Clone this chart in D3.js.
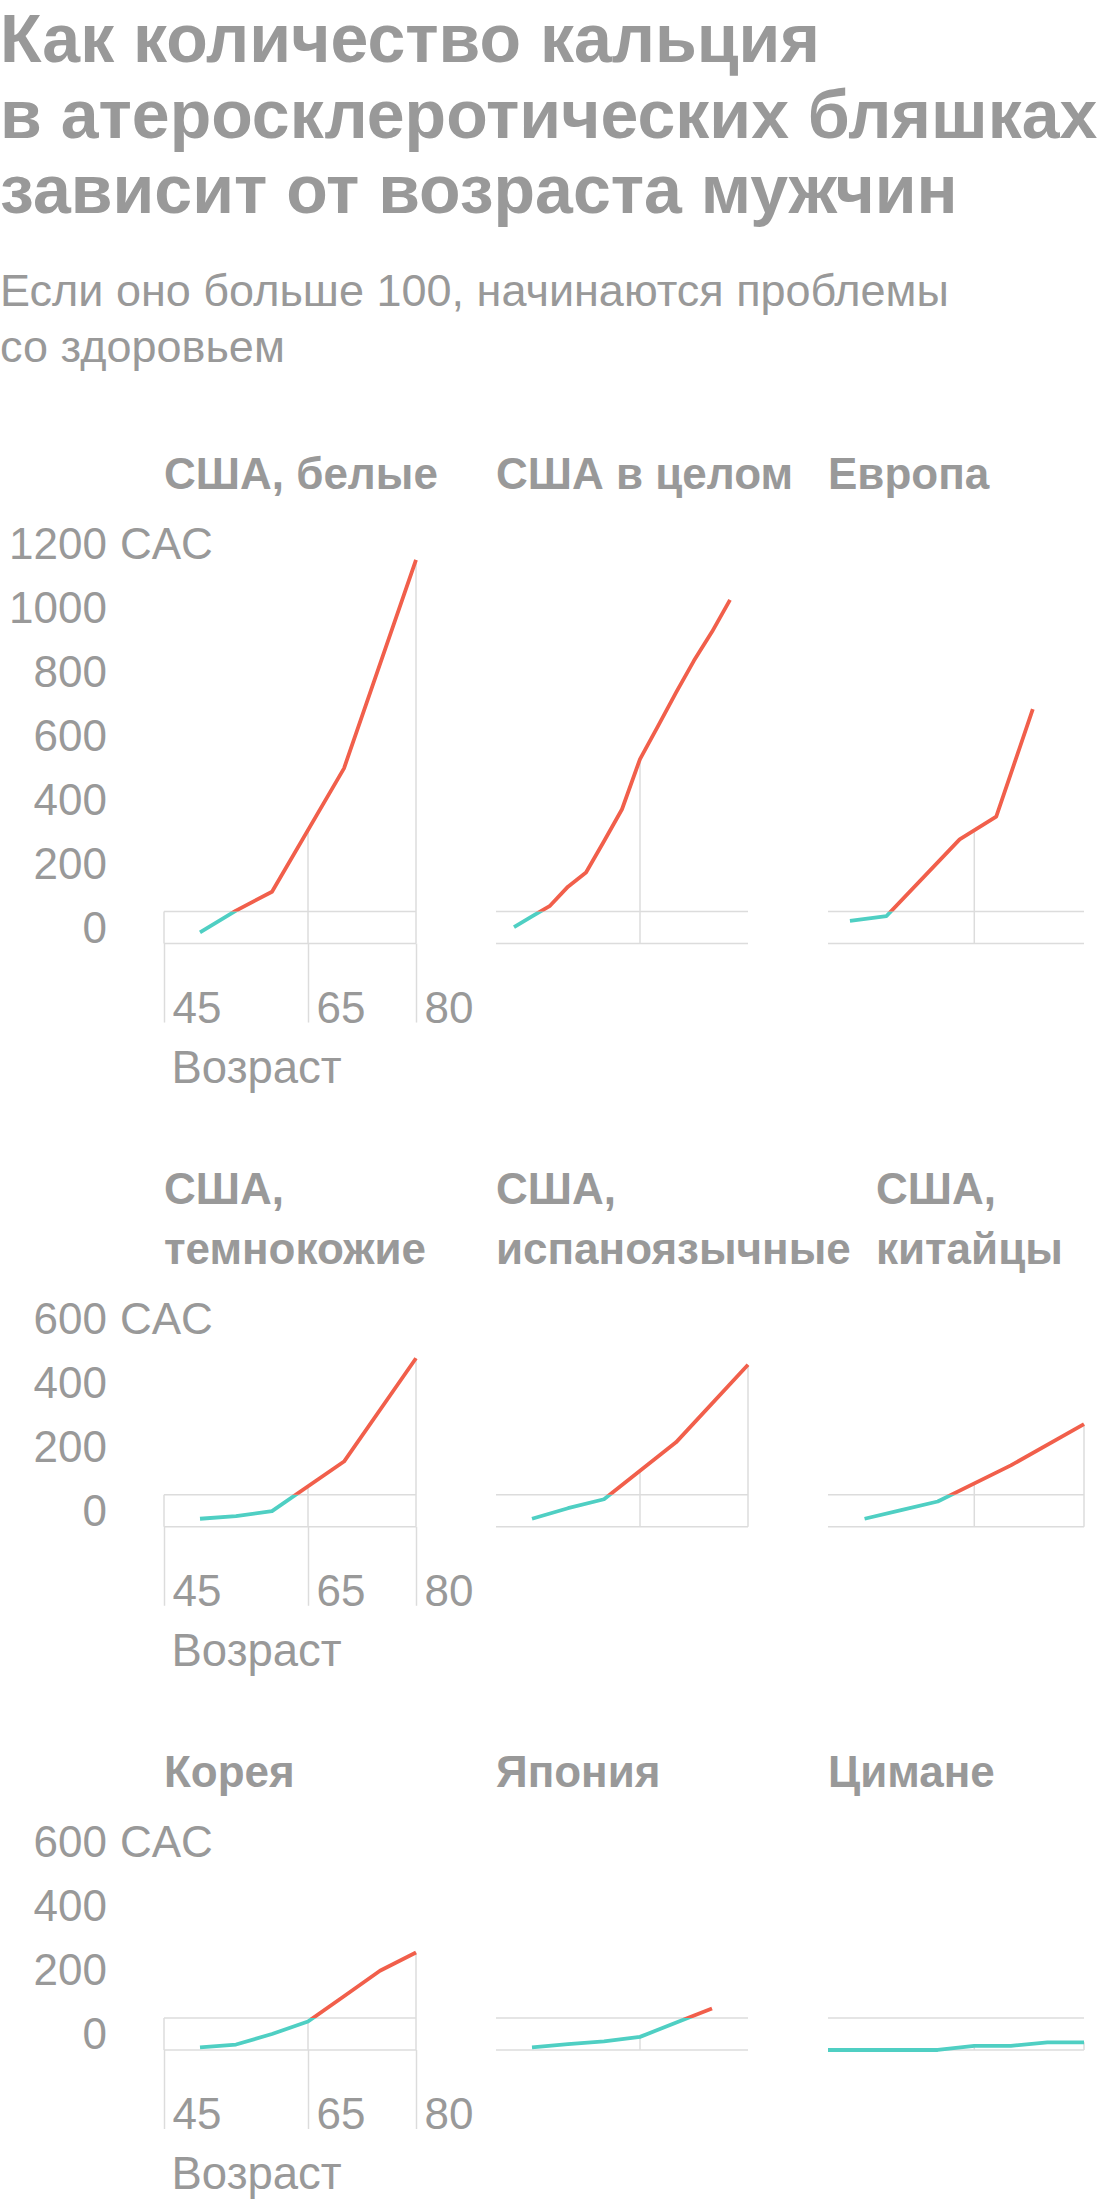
<!DOCTYPE html>
<html lang="ru">
<head>
<meta charset="utf-8">
<title>Кальций в атеросклеротических бляшках</title>
<script src="https://cdn.jsdelivr.net/npm/d3@7"></script>
<style>
  body { margin: 0; background: #fff; }
  svg text { font-family: "Liberation Sans", Arial, sans-serif; fill: #999; }
  .main-title { font-size: 68px; font-weight: bold; }
  .subtitle { font-size: 45px; }
  .panel-title { font-size: 44px; font-weight: bold; }
  .tick-label text, .unit-label { font-size: 44px; }
  .axis-label { font-size: 45.5px; }
</style>
</head>
<body>
<div id="chart"></div>
<script>
// -----------------------------
// DATA
// -----------------------------
const titleLines = ["Как количество кальция", "в атеросклеротических бляшках", "зависит от возраста мужчин"];
const subtitleLines = ["Если оно больше 100, начинаются проблемы", "со здоровьем"];

const panelNames = [
    ["США, белые"], ["США в целом"], ["Европа"],
    ["США,", "темнокожие"], ["США,", "испаноязычные"], ["США,", "китайцы"],
    ["Корея"], ["Япония"], ["Цимане"]
];

const agesWhite = [50, 55, 60, 70, 80];
const cacWhite = [35, 103, 162, 548, 1200];

const agesUsAll = [47.5, 50, 52.5, 55, 57.5, 60, 62.5, 65, 67.5, 70, 72.5, 75, 77.5];
const cacUsAll = [51, 85, 118, 178, 222, 320, 420, 577, 680, 785, 885, 975, 1075];

const agesEurope = [48, 53, 63, 68, 73];
const cacEurope = [71, 86, 326, 397, 733];

const agesBlack = [50, 55, 60, 70, 80];
const cacBlack = [25, 33, 49, 204, 527];

const agesHispanic = [50, 55, 60, 70, 80];
const cacHispanic = [25, 58, 86, 264, 507];

const agesChinese = [50, 55, 60, 70, 80];
const cacChinese = [25, 52, 79, 192, 321];

const agesKorea = [50, 55, 60, 65, 70, 75, 80];
const cacKorea = [8, 17, 50, 89, 168, 248, 305];

const agesJapan = [50, 55, 60, 65, 75];
const cacJapan = [8, 18, 27, 41, 130];

const agesTsimane = [45, 50, 55, 60, 65, 70, 75, 80];
const cacTsimane = [0, 0, 0, 0, 13, 13, 24, 24];

const panelAges = [agesWhite, agesUsAll, agesEurope, agesBlack, agesHispanic, agesChinese, agesKorea, agesJapan, agesTsimane];
const panelCac = [cacWhite, cacUsAll, cacEurope, cacBlack, cacHispanic, cacChinese, cacKorea, cacJapan, cacTsimane];

const rowMax = [1200, 600, 600];
const yTicksBig = [0, 200, 400, 600, 800, 1000, 1200];
const yTicksSmall = [0, 200, 400, 600];
const xTicks = [45, 65, 80];
const dropAges = [65, 80];
const threshold = 100;

// -----------------------------
// LAYOUT
// -----------------------------
const width = 1120, height = 2208;
const colRange = [[164, 416], [496, 748], [828, 1084]];
const titleOffset = [0, 0, 0, 0, 0, 48, 0, 0, 0]; // "китайцы" title sits further right
const pxPerUnit = 0.3197;
const titleGap = 60;        // line step of two-line panel titles
const titleToPlot = 71.4;   // last title baseline -> top tick
const tickDrop = 79;        // zero line -> x tick label baseline
const labelDrop = 139.5;    // zero line -> "Возраст" baseline
const rowGap = 120.5;       // "Возраст" -> next row title

const teal = "#4fcfc3";
const red = "#f15f4b";
const gridColor = "#dcdcdc";

const svg = d3.select("#chart").append("svg")
    .attr("width", width)
    .attr("height", height)
    .attr("viewBox", `0 0 ${width} ${height}`);

const defs = svg.append("defs");

// -----------------------------
// TITLE + SUBTITLE
// -----------------------------
svg.append("g").selectAll("text")
    .data(titleLines)
    .join("text")
    .attr("class", "main-title")
    .attr("x", 0)
    .attr("y", (d, i) => 62 + i * 75.5)
    .text(d => d);

svg.append("g").selectAll("text")
    .data(subtitleLines)
    .join("text")
    .attr("class", "subtitle")
    .attr("x", 0)
    .attr("y", (d, i) => 306 + i * 56)
    .text(d => d);

// -----------------------------
// ROWS OF SMALL MULTIPLES
// -----------------------------
let rowBaseline = 488.5;

for (let r = 0; r < 3; r++) {
    const rowPanels = d3.range(r * 3, r * 3 + 3);
    const nLines = d3.max(rowPanels, i => panelNames[i].length);
    const yTop = rowBaseline + (nLines - 1) * titleGap + titleToPlot;
    const y0 = yTop + rowMax[r] * pxPerUnit;

    const y = d3.scaleLinear().domain([0, rowMax[r]]).range([y0, yTop]);

    rowPanels.forEach((p, c) => {
        const x = d3.scaleLinear().domain([45, 80]).range(colRange[c]);
        const g = svg.append("g").attr("class", "panel");

        // panel title
        g.append("g").selectAll("text")
            .data(panelNames[p])
            .join("text")
            .attr("class", "panel-title")
            .attr("x", colRange[c][0] + titleOffset[p])
            .attr("y", (d, i) => rowBaseline + i * titleGap)
            .text(d => d);

        // first column carries the axes
        if (c === 0) {
            const yAxis = g.append("g")
                .attr("class", "tick-label")
                .attr("transform", "translate(107,0)")
                .call(d3.axisLeft(y)
                    .tickValues(r === 0 ? yTicksBig : yTicksSmall)
                    .tickFormat(d3.format("d"))
                    .tickSize(0)
                    .tickPadding(0));
            yAxis.select(".domain").remove();
            yAxis.selectAll("text").attr("dy", "-0.03em");

            g.append("text")
                .attr("class", "unit-label")
                .attr("x", 120)
                .attr("y", y(rowMax[r]) - 1.3)
                .text("CAC");

            const xAxis = g.append("g")
                .attr("class", "tick-label")
                .attr("transform", `translate(0,${y0})`)
                .call(d3.axisBottom(x).tickValues(xTicks).tickSize(tickDrop).tickPadding(0));
            xAxis.select(".domain").remove();
            xAxis.selectAll("line")
                .attr("stroke", gridColor)
                .attr("stroke-width", 1.5);
            xAxis.selectAll("text")
                .attr("y", tickDrop)
                .attr("dy", 0)
                .attr("x", 8)
                .attr("text-anchor", "start");

            g.append("line")
                .attr("x1", x(45)).attr("x2", x(45))
                .attr("y1", y(threshold)).attr("y2", y0)
                .attr("stroke", gridColor)
                .attr("stroke-width", 1.5);

            g.append("text")
                .attr("class", "axis-label")
                .attr("x", colRange[c][0] + 7.5)
                .attr("y", y0 + labelDrop)
                .text("Возраст");
        }

        // zero line and 100 line
        g.selectAll(".grid")
            .data([0, threshold])
            .join("line")
            .attr("class", "grid")
            .attr("x1", x(45)).attr("x2", x(80))
            .attr("y1", d => y(d)).attr("y2", d => y(d))
            .attr("stroke", gridColor)
            .attr("stroke-width", 1.5);

        const ages = panelAges[p];
        const values = panelCac[p];
        const valueAt = d3.scaleLinear().domain(ages).range(values);

        // drop lines from the curve at 65 and 80
        g.selectAll(".drop")
            .data(dropAges.filter(a => a >= ages[0] && a <= ages[ages.length - 1]))
            .join("line")
            .attr("class", "drop")
            .attr("x1", d => x(d)).attr("x2", d => x(d))
            .attr("y1", d => y(valueAt(d)))
            .attr("y2", y0)
            .attr("stroke", gridColor)
            .attr("stroke-width", 1.5);

        // curve, teal below 100 and red above
        const pts = ages.map((a, i) => ({ age: a, value: values[i] }));
        const line = d3.line().x(d => x(d.age)).y(d => y(d.value));

        const clipLow = `clip-low-${p}`;
        const clipHigh = `clip-high-${p}`;
        defs.append("clipPath").attr("id", clipLow)
            .append("rect")
            .attr("x", colRange[c][0] - 20).attr("width", colRange[c][1] - colRange[c][0] + 40)
            .attr("y", y(threshold)).attr("height", y0 - y(threshold) + 20);
        defs.append("clipPath").attr("id", clipHigh)
            .append("rect")
            .attr("x", colRange[c][0] - 20).attr("width", colRange[c][1] - colRange[c][0] + 40)
            .attr("y", yTop - 40).attr("height", y(threshold) - yTop + 40);

        [[clipLow, teal], [clipHigh, red]].forEach(([id, color]) => {
            g.append("path")
                .datum(pts)
                .attr("clip-path", `url(#${id})`)
                .attr("fill", "none")
                .attr("stroke", color)
                .attr("stroke-width", 3.8)
                .attr("stroke-linejoin", "round")
                .attr("d", line);
        });
    });

    rowBaseline = y0 + labelDrop + rowGap;
}
</script>
</body>
</html>
